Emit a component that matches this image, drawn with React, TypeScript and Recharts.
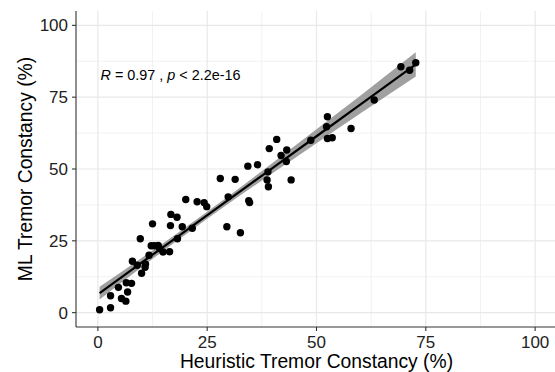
import React from "react";
import {
  ComposedChart,
  Scatter,
  Line,
  Area,
  XAxis,
  YAxis,
  CartesianGrid,
  ReferenceDot,
} from "recharts";

// heuristic vs ML tremor constancy
const heuristic = [
  0.4, 2.9, 2.9, 4.7, 5.4, 6.4, 6.8, 6.5, 7.7, 7.9, 9.0, 10.0, 10.8, 10.9, 9.7,
  11.7, 12.2, 12.5, 12.9, 13.8, 14.1, 14.9, 16.4, 16.6, 16.7, 18.1, 18.2, 19.3,
  20.1, 21.6, 22.7, 24.3, 24.9, 28.0, 29.5, 29.8, 31.4, 32.6, 34.5, 34.7, 34.3,
  36.5, 38.7, 39.0, 38.9, 39.2, 40.9, 41.9, 43.1, 43.2, 44.2, 48.7, 52.5, 52.3,
  52.5, 53.6, 57.9, 63.2, 69.3, 71.3, 72.7,
];
const ml = [
  1.0, 1.7, 5.9, 8.8, 4.9, 4.0, 7.2, 10.4, 10.2, 17.9, 16.5, 13.7, 15.8, 16.9,
  25.7, 20.0, 23.3, 30.9, 23.3, 23.4, 22.3, 21.1, 21.2, 30.3, 34.2, 33.2, 25.7,
  29.9, 39.4, 29.4, 38.6, 38.3, 36.9, 46.7, 29.9, 40.3, 46.4, 27.8, 39.0, 38.3,
  51.0, 51.5, 46.2, 43.8, 49.0, 57.1, 60.3, 54.7, 52.6, 56.6, 46.2, 60.0, 68.2,
  64.7, 60.6, 60.9, 64.1, 74.0, 85.6, 84.4, 87.0,
];

// fitted line and its confidence band
const fitX = [0.4, 10, 20, 30, 40, 50, 60, 72.7];
const fitY = [6.8, 17.4, 28.4, 39.4, 50.4, 61.4, 72.4, 86.4];
const bandLow = [4.6, 15.8, 27.15, 38.1, 48.6, 59.0, 69.3, 82.2];
const bandHigh = [9.0, 19.0, 29.65, 40.7, 52.2, 63.8, 75.5, 90.6];

const ticks = [0, 25, 50, 75, 100];
const minorTicks = [12.5, 37.5, 62.5, 87.5];
const labelPos = { x: 0.6, y: 81 };

const points = heuristic.map((x, i) => ({ x, y: ml[i] }));
const fitData = fitX.map((x, i) => ({
  x,
  fit: fitY[i],
  band: [bandLow[i], bandHigh[i]],
}));

const FONT = "'Liberation Sans', Arial, sans-serif";
const tickStyle = { fill: "#222", fontSize: 17, fontFamily: FONT };

const CorLabel = (props: any) => {
  const vb = props.viewBox || {};
  const cx = (vb.x ?? 0) + (vb.width ?? 0) / 2;
  const cy = (vb.y ?? 0) + (vb.height ?? 0) / 2;
  return (
    <text x={cx} y={cy} fontSize={14.4} fill="#000" fontFamily={FONT}>
      <tspan fontStyle="italic">R</tspan>
      <tspan>{" = 0.97 , "}</tspan>
      <tspan fontStyle="italic">p</tspan>
      <tspan>{" < 2.2e-16"}</tspan>
    </text>
  );
};

export default function App() {
  return (
    <div
      style={{
        position: "absolute",
        left: 0,
        top: 0,
        width: 555,
        height: 372,
        overflow: "hidden",
        background: "#fff",
      }}
    >
      <ComposedChart
        width={560}
        height={372}
        data={fitData}
        margin={{ top: 11, right: 3, bottom: 0, left: 0 }}
      >
        <CartesianGrid
          stroke="#f2f2f2"
          strokeWidth={1}
          horizontalValues={minorTicks}
          verticalValues={minorTicks}
        />
        <CartesianGrid
          stroke="#e8e8e8"
          strokeWidth={1.2}
          horizontalValues={ticks}
          verticalValues={ticks}
        />
        <XAxis
          dataKey="x"
          type="number"
          domain={[-5, 105]}
          ticks={ticks}
          allowDataOverflow
          height={45}
          tickSize={4}
          tickMargin={5}
          tick={tickStyle}
          stroke="#333"
          axisLine={{ stroke: "#333", strokeWidth: 1.1 }}
          tickLine={{ stroke: "#333", strokeWidth: 1.1 }}
          label={{
            value: "Heuristic Tremor Constancy (%)",
            position: "insideBottom",
            offset: 4,
            style: { fill: "#000", fontSize: 19.3, fontFamily: FONT },
          }}
        />
        <YAxis
          type="number"
          domain={[-5, 105]}
          ticks={ticks}
          allowDataOverflow
          width={76}
          tickSize={4}
          tickMargin={4}
          tick={tickStyle}
          stroke="#333"
          axisLine={{ stroke: "#333", strokeWidth: 1.1 }}
          tickLine={{ stroke: "#333", strokeWidth: 1.1 }}
          label={{
            value: "ML Tremor Constancy (%)",
            angle: -90,
            position: "insideLeft",
            offset: 25,
            style: {
              textAnchor: "middle",
              fill: "#000",
              fontSize: 19.3,
              fontFamily: FONT,
            },
          }}
        />
        <Area
          dataKey="band"
          type="monotone"
          stroke="none"
          fill="#a0a0a0"
          fillOpacity={1}
          isAnimationActive={false}
          activeDot={false}
        />
        <Scatter
          data={points}
          dataKey="y"
          fill="#000"
          isAnimationActive={false}
          shape={(p: any) => <circle cx={p.cx} cy={p.cy} r={3.7} fill="#000" />}
        />
        <Line
          dataKey="fit"
          type="linear"
          stroke="#000"
          strokeWidth={2.2}
          dot={false}
          activeDot={false}
          isAnimationActive={false}
        />
        <ReferenceDot
          x={labelPos.x}
          y={labelPos.y}
          r={1}
          fill="none"
          stroke="none"
          label={{ content: CorLabel }}
        />
      </ComposedChart>
    </div>
  );
}
